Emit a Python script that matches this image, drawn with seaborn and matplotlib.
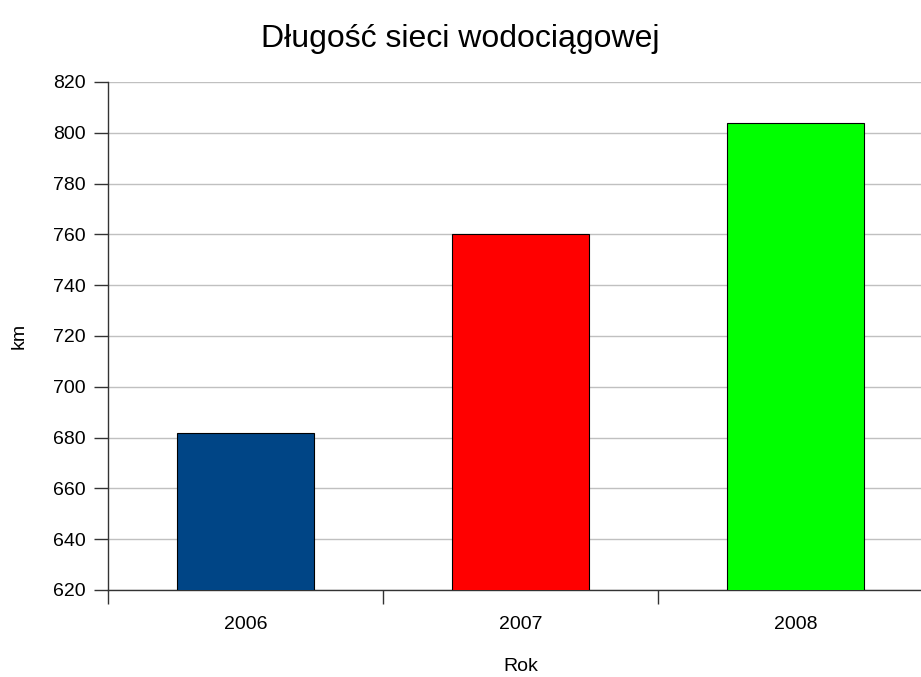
import matplotlib
matplotlib.use("Agg")
import matplotlib.pyplot as plt
import seaborn as sns
import pandas as pd

years = ["2006", "2007", "2008"]
lengths = [682, 760, 804]
colors = ["#004586", "#ff0000", "#00ff00"]
y_ticks = [620, 640, 660, 680, 700, 720, 740, 760, 780, 800, 820]

df = pd.DataFrame({"Rok": years, "km": lengths})

sns.set_style("white")
plt.rcParams['font.family'] = ['Liberation Sans', 'DejaVu Sans']
plt.rcParams['text.color'] = 'black'
plt.rcParams['axes.labelcolor'] = 'black'

fig = plt.figure(figsize=(9.21, 6.77), dpi=100)
ax = fig.add_axes([108 / 921, 87 / 677, 825 / 921, 508 / 677])

sns.barplot(data=df, x="Rok", y="km", hue="Rok", palette=colors, legend=False,
            width=0.5, saturation=1, edgecolor="black", linewidth=0.8, ax=ax, zorder=3)

ax.set_ylim(620, 820)
ax.set_xlim(-0.5, 2.5)
ax.set_yticks(y_ticks)
ax.yaxis.grid(True, color="#c0c0c0", linewidth=1, zorder=0)
ax.set_axisbelow(True)

# tick marks sit on the category boundaries, labels stay centred
ax.set_xticks([-0.5, 0.5, 1.5, 2.5], minor=True)
ax.tick_params(axis="x", which="major", length=0, pad=19, labelsize=14, labelcolor="black")
ax.tick_params(axis="x", which="minor", length=10, width=1, color="#333333", direction="out", bottom=True)
ax.tick_params(axis="y", length=10, width=1, color="#333333", direction="out", left=True,
               labelsize=14, labelcolor="black", pad=6)

for side in ["top", "right"]:
    ax.spines[side].set_visible(False)
for side in ["left", "bottom"]:
    ax.spines[side].set_color("#333333")
    ax.spines[side].set_linewidth(1)

ax.set_xlabel("Rok", fontsize=14, labelpad=18)
ax.set_ylabel("km", fontsize=14, labelpad=18)
fig.text(0.5, 1 - 39 / 677, "Długość sieci wodociągowej", ha="center", va="center", fontsize=23)

fig.savefig("out.png", dpi=100)
